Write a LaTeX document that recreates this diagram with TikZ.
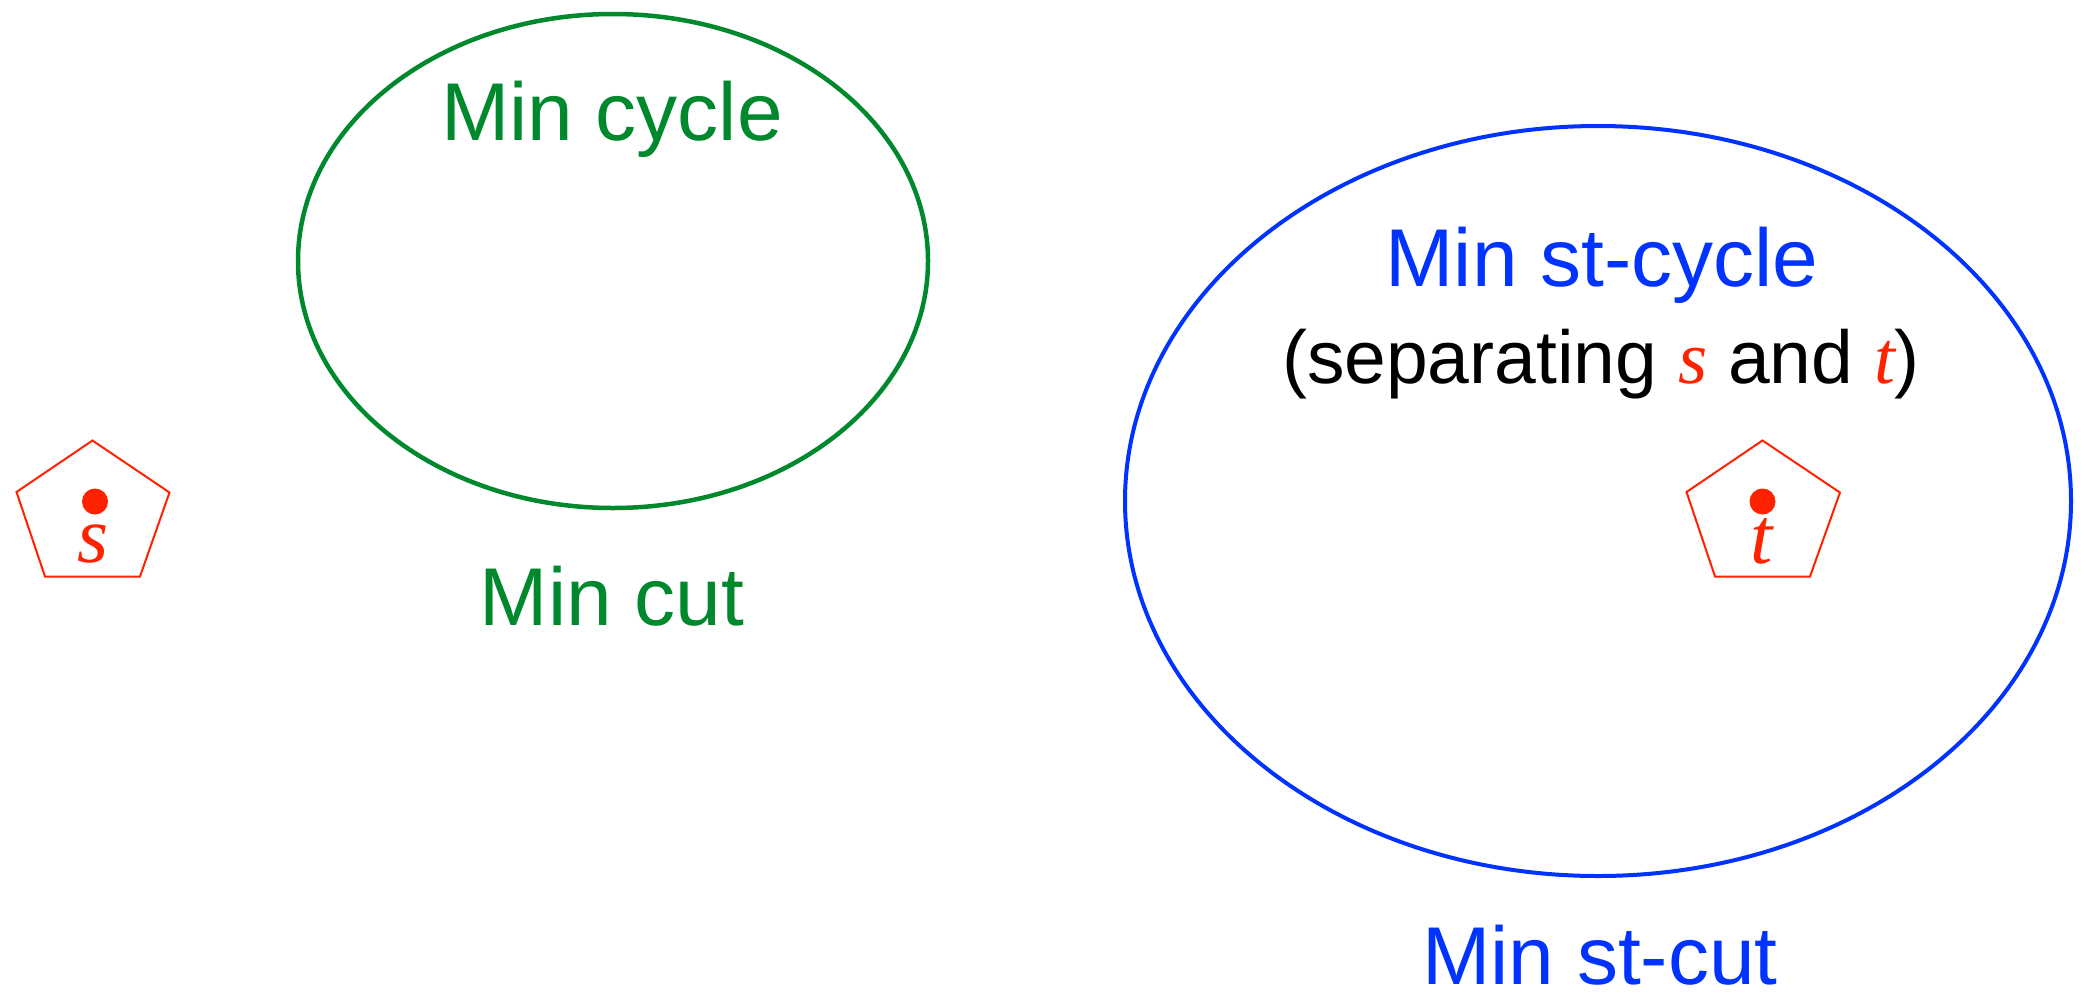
\documentclass[tikz,border=0pt]{standalone}
\usepackage{fontspec}
\setmainfont{Liberation Sans}
\newfontfamily\tms{Liberation Serif}
\definecolor{cgreen}{RGB}{0,136,45}
\definecolor{cblue}{RGB}{0,51,255}
\definecolor{cred}{RGB}{255,34,0}
\tikzset{
  lbl/.style={anchor=base,inner sep=0pt,font=\fontsize{82}{98}\selectfont},
  pent/.style={draw=cred,line width=2pt,line join=miter},
  vdot/.style={fill=cred,circle,inner sep=0pt,minimum size=26pt},
  vlet/.style={anchor=base,inner sep=0pt,text=cred,font=\fontsize{80}{96}\selectfont\tms\itshape},
}
\begin{document}
\begin{tikzpicture}[x=1pt,y=-1pt]
\useasboundingbox (0,0) rectangle (2091,991);
% green ellipse
\draw[cgreen,line width=4.5pt] (613,261) ellipse [x radius=315, y radius=247];
\node[lbl,text=cgreen] (mincycle) at (612,140) {Min cycle};
\node[lbl,text=cgreen] (mincut) at (612,625) {Min cut};
% blue ellipse
\draw[cblue,line width=4pt] (1598,501) ellipse [x radius=473, y radius=375];
\node[lbl,text=cblue] (minstcycle) at (1602,286) {Min st-cycle};
\node[lbl,font=\fontsize{75}{90}\selectfont] (sep) at (1601,383) {(separating {\tms\itshape\color{cred}s} and {\tms\itshape\color{cred}t})};
\node[lbl,text=cblue] (minstcut) at (1600,984) {Min st-cut};
% s pentagon
\draw[pent] (92.5,440.5) -- (169.5,492.5) -- (140,576.5) -- (45,576.5) -- (16.5,492) -- cycle;
\node[vdot] (sdot) at (95,501.5) {};
\node[vlet] (s) at (93,562) {s};
% t pentagon
\draw[pent] (1762.5,440.5) -- (1840,492.5) -- (1810,576.5) -- (1715,576.5) -- (1686.5,492) -- cycle;
\node[vdot] (tdot) at (1762.5,501.5) {};
\node[vlet] (t) at (1762,563) {t};
\end{tikzpicture}
\end{document}
